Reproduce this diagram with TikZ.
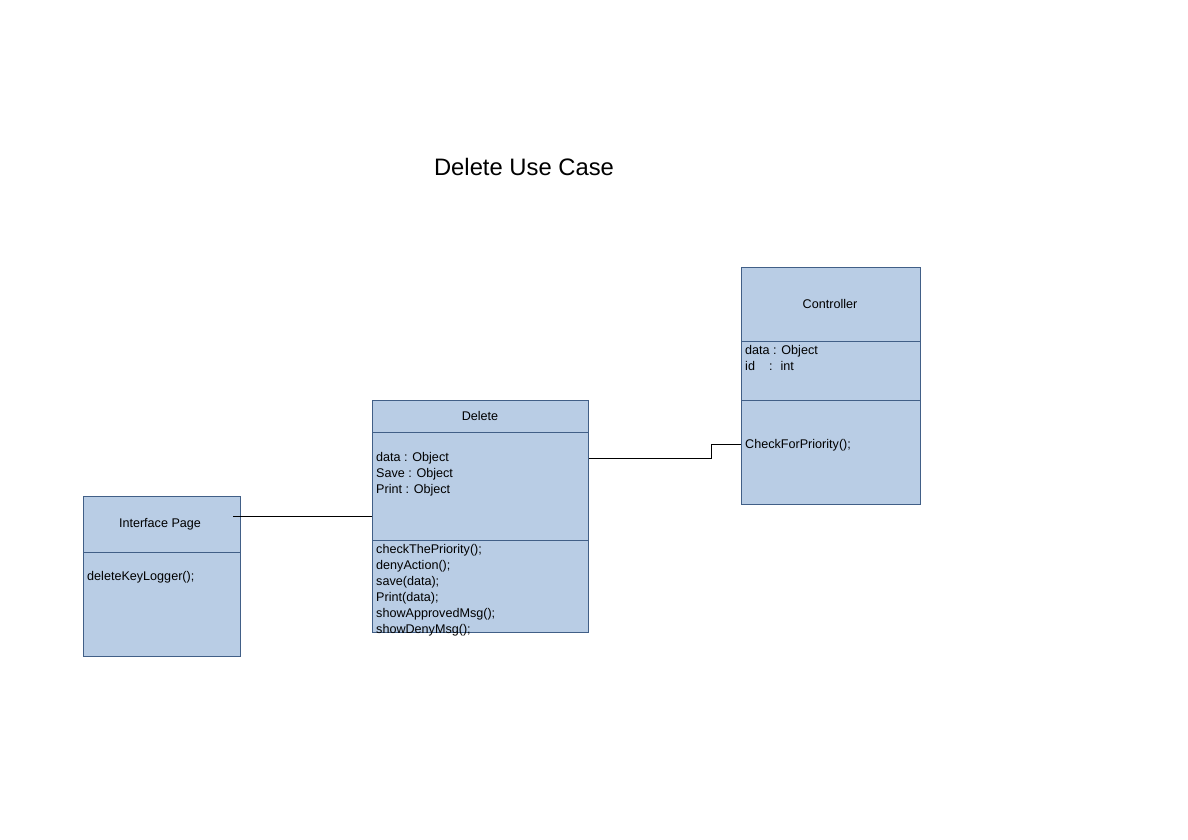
\documentclass[tikz,border=0pt]{standalone}
\usepackage{fontspec}
\setmainfont{Liberation Sans}
\definecolor{boxfill}{RGB}{185,205,229}
\definecolor{boxline}{RGB}{65,95,135}
\begin{document}
\begin{tikzpicture}[x=1pt,y=-1pt,
  classbox/.style={draw=boxline,fill=boxfill,line width=0.8pt,rectangle,inner sep=0pt,anchor=north west},
  divider/.style={draw=boxline,line width=0.8pt},
  member/.style={anchor=west,inner sep=0pt,font=\fontsize{12.6}{16}\selectfont,align=left},
  cname/.style={inner sep=0pt,font=\fontsize{12.6}{16}\selectfont},
  conn/.style={draw=black,line width=0.8pt}]
\useasboundingbox (0,0) rectangle (1188,840);
\fill[white] (0,0) rectangle (1188,840);
% title
\node[cname,font=\fontsize{23.8}{28}\selectfont] (title) at (524,167) {Delete Use Case};
% Interface Page
\node[classbox,minimum width=157pt,minimum height=160pt] (ip) at (83,496) {};
\draw[divider] (83,552) -- (240,552);
\node[cname] (ipname) at (160,524) {Interface Page};
\node[member] (ipops) at (87,577) {deleteKeyLogger();};
% Delete
\node[classbox,minimum width=216pt,minimum height=232pt] (del) at (372,400) {};
\draw[divider] (372,432) -- (588,432);
\draw[divider] (372,540) -- (588,540);
\node[cname] (delname) at (480,416) {Delete};
\node[member,anchor=north west] (delattr) at (376,452) {data : Object\\Save : Object\\Print : Object};
\node[member,anchor=north west] (delops) at (376,544) {checkThePriority();\\denyAction();\\save(data);\\Print(data);\\showApprovedMsg();\\showDenyMsg();};
% Controller
\node[classbox,minimum width=179pt,minimum height=237pt] (ctl) at (741,267) {};
\draw[divider] (741,341) -- (920,341);
\draw[divider] (741,400) -- (920,400);
\node[cname] (ctlname) at (830,304) {Controller};
\node[member,anchor=north west] (ctlattr) at (745,345) {data : Object\\id\hspace{14pt}:\hspace{8pt}int};
\node[member] (ctlops) at (745,445) {CheckForPriority();};
% connectors
\coordinate (ipA) at (233,516);
\coordinate (d1) at (588,458);
\coordinate (bend) at (711,458);
\coordinate (c1) at (741,444);
\draw[conn] (ipA) -- (del.west |- ipA);
\draw[conn] (del.east |- d1) -- (bend) |- (ctl.west |- c1);
\end{tikzpicture}
\end{document}
